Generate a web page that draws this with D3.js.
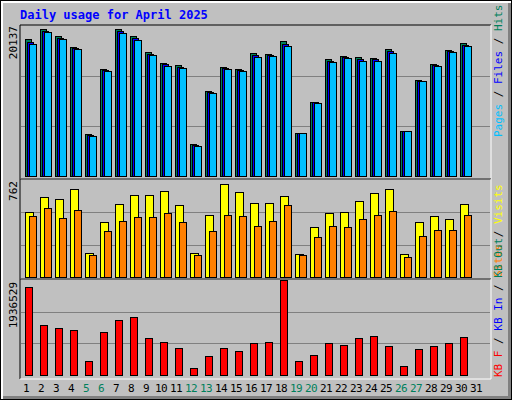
<!DOCTYPE html>
<html><head><meta charset="utf-8">
<script src="https://cdn.jsdelivr.net/npm/d3@7"></script>
<style>body{margin:0;background:#fff}</style>
</head><body>
<svg id="chart" width="512" height="400"></svg>
<script>
const days = d3.range(1, 32);
const weekend = [5, 6, 12, 13, 19, 20, 26, 27];
const hits = [18392,19735,18795,17318,5638,14365,19735,18795,16647,15170,14902,4296,11411,14633,14365,16513,16378,18124,5773,9934,15707,16110,15976,15841,17050,6041,12888,15036,16915,17855];
const files = [17990,19480,18530,17180,5500,14230,19400,18480,16380,14970,14700,4160,11280,14500,14230,16250,16240,17720,5773,9870,15440,15980,15700,15640,16780,6041,12820,14900,16780,17650];
const pages = [17721,19332,18392,17050,5370,14096,19198,18258,16244,14768,14499,4028,11143,14365,14096,15976,16110,17453,5773,9800,15305,15842,15439,15439,16513,6041,12754,14768,16647,17453];
const visits = [507,626,610,689,192,429,571,641,641,673,563,192,484,728,665,578,578,634,177,389,500,507,594,657,689,184,429,476,452,571];
const sites = [476,539,460,523,169,358,437,468,468,500,429,169,358,484,476,397,437,563,169,318,397,389,452,484,515,161,326,366,366,484];
const kbytes = [1793800,1019200,958000,917300,285400,876500,1121100,1182300,754200,672700,550400,142700,387300,550400,489200,652300,672700,1936529,285400,407700,652300,611500,754200,795000,591100,183500,530000,591100,652300,774600];
const maxHits = 20137, maxVisits = 762, maxKB = 1936529;

const svg = d3.select("#chart");
const font = "'DejaVu Sans Mono', monospace";

// outer frame
svg.append("rect").attr("x", 0).attr("y", 0).attr("width", 512).attr("height", 400).attr("fill", "#000");
svg.append("rect").attr("x", 1).attr("y", 1).attr("width", 510).attr("height", 398).attr("fill", "#fff");
svg.append("rect").attr("x", 3).attr("y", 3).attr("width", 508).attr("height", 396).attr("fill", "#808080");
svg.append("rect").attr("x", 3).attr("y", 3).attr("width", 505).attr("height", 393).attr("fill", "#c0c0c0");

svg.append("text").attr("x", 20).attr("y", 19).attr("fill", "#0000ff")
  .style("font-family", font).style("font-size", "12px").style("font-weight", "bold")
  .text("Daily usage for April 2025");

const x = d3.scaleBand().domain(days).range([18, 483]);
const left = 20, right = 491;

function panel(y0, y1) {
  svg.append("path").attr("d", `M${left},${y1}V${y0}H${right}`).attr("stroke", "#000").attr("fill", "none");
  svg.append("path").attr("d", `M${right},${y0}V${y1}H${left}`).attr("stroke", "#fff").attr("fill", "none");
}
panel(25, 179);
panel(179, 279);
panel(279, 379);

function grid(y) {
  [1, 2].forEach(k => {
    const v = y.domain()[1] * k / 3;
    svg.append("line").attr("x1", left + 1).attr("x2", right - 1)
      .attr("y1", Math.round(y(v)) + 0.5).attr("y2", Math.round(y(v)) + 0.5)
      .attr("stroke", "#808080");
  });
}

function bars(data, y, color, dx, w) {
  svg.append("g").selectAll("rect").data(data).join("rect")
    .attr("x", (d, i) => x(i + 1) + dx + 0.5)
    .attr("y", d => Math.round(y(d)) + 0.5)
    .attr("width", w)
    .attr("height", d => Math.round(y(0)) - Math.round(y(d)))
    .attr("fill", color).attr("stroke", "#000");
}

function yLabel(text, yPos) {
  svg.append("text").attr("transform", `translate(17,${yPos}) rotate(-90)`)
    .attr("text-anchor", "end").style("font-family", font).style("font-size", "11px")
    .attr("fill", "#000").text(text);
}

// hits / files / pages
const y1 = d3.scaleLinear().domain([0, maxHits]).range([176, 26]);
grid(y1);
bars(hits, y1, "#00805c", 7, 6);
bars(files, y1, "#0000ff", 9, 6);
bars(pages, y1, "#00c0ff", 11, 7);
yLabel("20137", 26);

// visits / sites
const y2 = d3.scaleLinear().domain([0, maxVisits]).range([277, 180]);
grid(y2);
bars(visits, y2, "#ffff00", 7, 8);
bars(sites, y2, "#ff8000", 11, 7);
yLabel("762", 181);

// kbytes
const y3 = d3.scaleLinear().domain([0, maxKB]).range([375, 280]);
grid(y3);
bars(kbytes, y3, "#ff0000", 7, 7);
yLabel("1936529", 282);

// day labels
svg.append("g").selectAll("text").data(days).join("text")
  .attr("x", d => x(d) + x.bandwidth() / 2 + 0.5)
  .attr("y", 392).attr("text-anchor", "middle")
  .style("font-family", font).style("font-size", "11px").attr("letter-spacing", "-0.5")
  .attr("fill", d => weekend.includes(d) ? "#00805c" : "#000")
  .text(d => d);

// right side legends
function legend(parts, yPos) {
  const t = svg.append("text").attr("transform", `translate(502,${yPos}) rotate(-90)`)
    .style("font-family", font).style("font-size", "11px");
  parts.forEach(p => t.append("tspan").attr("fill", p[1]).text(p[0]));
}
legend([["Pages", "#00c0ff"], [" / ", "#000"], ["Files", "#0000ff"], [" / ", "#000"], ["Hits", "#00805c"]], 137);
legend([["Sites", "#ff8000"], [" / ", "#000"], ["Visits", "#ffff00"]], 277);
legend([["KB F", "#ff0000"], [" / ", "#000"], ["KB In", "#0000ff"], [" / ", "#000"], ["KB Out", "#00805c"]], 377);
</script>
</body></html>
